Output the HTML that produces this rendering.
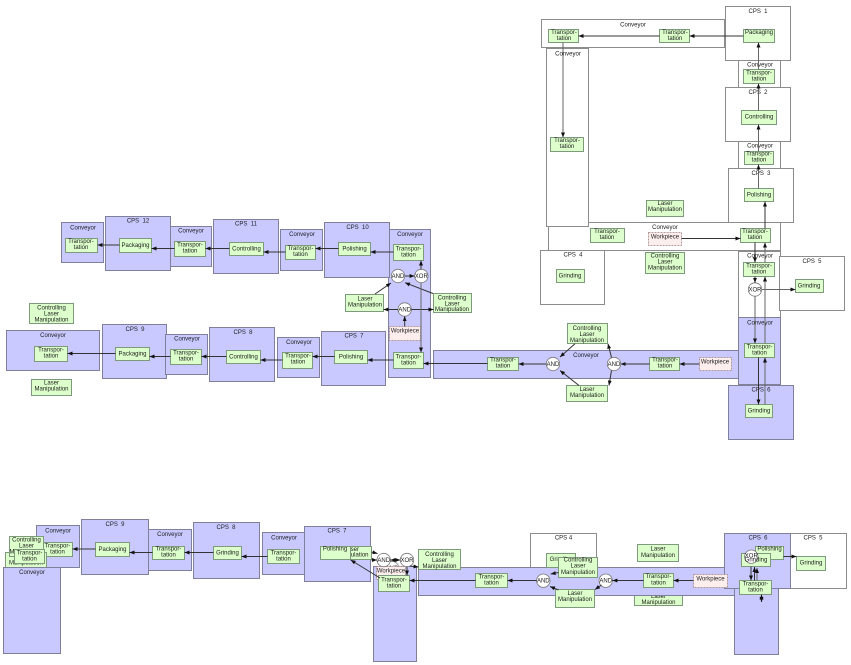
<!DOCTYPE html>
<html>
<head>
<meta charset="utf-8">
<style>
html,body{margin:0;padding:0;background:#fff;}
svg{display:block;}
text{font-family:"Liberation Sans",sans-serif;font-size:6px;fill:#1c1c1c;text-anchor:middle;}
.w{fill:#fff;stroke:#8c8c8c;stroke-width:1;}
.u{fill:#c9c9ff;stroke:#80809a;stroke-width:1;}
.n{fill:#dcffcb;stroke:#7d9a7d;stroke-width:1;}
.p{fill:#fdeeee;stroke:#a08080;stroke-width:.8;stroke-dasharray:2 1;}
.c{fill:#fff;stroke:#777;stroke-width:.8;}
line{stroke:#333;stroke-width:1;marker-end:url(#a);}
.g{stroke:#666;}
.d{marker-start:url(#s);}
</style>
</head>
<body>
<svg width="851" height="665" viewBox="0 0 851 665" xmlns="http://www.w3.org/2000/svg">
<defs>
<marker id="a" markerUnits="userSpaceOnUse" markerWidth="5" markerHeight="4" refX="5" refY="2" orient="auto"><path d="M0 0L5 2L0 4Z" fill="#111"/></marker>
<marker id="s" markerUnits="userSpaceOnUse" markerWidth="5" markerHeight="4" refX="0" refY="2" orient="auto"><path d="M5 0L0 2L5 4Z" fill="#111"/></marker>
</defs>

<!-- TOP RIGHT -->
<rect class="w" x="548.5" y="222.5" width="232" height="28"/>
<rect class="w" x="541.5" y="19.5" width="183" height="28"/>
<rect class="w" x="546.5" y="48.5" width="42" height="178"/>
<rect class="w" x="738.5" y="60.5" width="42" height="27"/>
<rect class="w" x="738.5" y="141.5" width="42" height="27"/>
<rect class="w" x="725.5" y="6.5" width="65" height="54"/>
<rect class="w" x="725.5" y="87.5" width="65" height="54"/>
<rect class="w" x="728.5" y="168.5" width="65" height="54"/>
<rect class="w" x="540.5" y="250.5" width="64" height="54"/>
<rect class="w" x="738.5" y="251.5" width="42" height="66"/>
<rect class="w" x="779.5" y="256.5" width="65" height="54"/>
<rect class="u" x="433.5" y="350.5" width="306" height="28"/>
<rect class="u" x="738.5" y="317.5" width="42" height="67"/>
<rect class="u" x="728.5" y="385.5" width="65" height="54"/>
<text x="758" y="13">CPS &#160;1</text>
<text x="633" y="26.5">Conveyor</text>
<text x="568" y="55.5">Conveyor</text>
<text x="760" y="66.5">Conveyor</text>
<text x="758" y="94">CPS &#160;2</text>
<text x="760" y="147.5">Conveyor</text>
<text x="761" y="175">CPS &#160;3</text>
<text x="665" y="229">Conveyor</text>
<text x="573" y="256.5">CPS &#160;4</text>
<text x="760" y="257.5">Conveyor</text>
<text x="812" y="263">CPS &#160;5</text>
<text x="760" y="324.5">Conveyor</text>
<text x="586" y="357">Conveyor</text>
<text x="761" y="391.5">CPS &#160;6</text>

<rect class="n" x="548.5" y="29.5" width="30" height="13"/><text x="564" y="34">Transpor-</text><text x="564" y="40">tation</text>
<rect class="n" x="659.5" y="29.5" width="30" height="13"/><text x="675" y="34">Transpor-</text><text x="675" y="40">tation</text>
<rect class="n" x="743.5" y="29.5" width="31" height="13"/><text x="759" y="34">Packaging</text>
<rect class="n" x="743.5" y="69.5" width="31" height="14"/><text x="759" y="74.5">Transpor-</text><text x="759" y="80.5">tation</text>
<rect class="n" x="741.5" y="110.5" width="35" height="14"/><text x="759" y="118.5">Controlling</text>
<rect class="n" x="744.5" y="151.5" width="29" height="13"/><text x="759" y="155.5">Transpor-</text><text x="759" y="161.5">tation</text>
<rect class="n" x="744.5" y="188.5" width="29" height="13"/><text x="759" y="196.5">Polishing</text>
<rect class="n" x="550.5" y="137.5" width="33" height="14"/><text x="567" y="142">Transpor-</text><text x="567" y="148">tation</text>
<rect class="n" x="646.5" y="200.5" width="37" height="16"/><text x="665" y="205">Laser</text><text x="665" y="211">Manipulation</text>
<rect class="n" x="590.5" y="228.5" width="34" height="14"/><text x="607" y="233">Transpor-</text><text x="607" y="239">tation</text>
<rect class="p" x="648.5" y="232.5" width="33" height="13"/><text x="665" y="238.5">Workpiece</text>
<rect class="n" x="740.5" y="228.5" width="30" height="14"/><text x="755" y="233">Transpor-</text><text x="755" y="239">tation</text>
<rect class="n" x="556.5" y="269.5" width="28" height="13"/><text x="570" y="277.5">Grinding</text>
<rect class="n" x="645.5" y="252.5" width="39" height="21"/><text x="665" y="257.7">Controlling</text><text x="665" y="263.7">Laser</text><text x="665" y="269.7">Manipulation</text>
<rect class="n" x="743.5" y="262.5" width="31" height="14"/><text x="759" y="267.5">Transpor-</text><text x="759" y="273.5">tation</text>
<rect class="n" x="795.5" y="279.5" width="28" height="13"/><text x="809" y="287.5">Grinding</text>
<rect class="n" x="744.5" y="343.5" width="30" height="14"/><text x="759.5" y="348.5">Transpor-</text><text x="759.5" y="354.5">tation</text>
<rect class="n" x="745.5" y="404.5" width="27" height="13"/><text x="759" y="412.5">Grinding</text>
<rect class="n" x="567.5" y="323.5" width="40" height="20"/><text x="587" y="330">Controlling</text><text x="587" y="336">Laser</text><text x="587" y="342">Manipulation</text>
<rect class="n" x="566.5" y="385.5" width="41" height="16"/><text x="587" y="391">Laser</text><text x="587" y="397">Manipulation</text>
<rect class="n" x="649.5" y="357.5" width="30" height="13"/><text x="665" y="361.5">Transpor-</text><text x="665" y="367.5">tation</text>
<rect class="p" x="699.5" y="357.5" width="32" height="13"/><text x="715" y="363.5">Workpiece</text>
<rect class="n" x="487.5" y="357.5" width="31" height="13"/><text x="503" y="361.5">Transpor-</text><text x="503" y="367.5">tation</text>
<circle class="c" cx="755" cy="289.5" r="6.7"/><text x="755" y="291.5">XOR</text>
<circle class="c" cx="553" cy="364" r="6.7"/><text x="553" y="366">AND</text>
<circle class="c" cx="614" cy="364" r="6.7"/><text x="614" y="366">AND</text>

<line x1="743.5" y1="36" x2="689.5" y2="36"/>
<line x1="659.5" y1="36" x2="578.5" y2="36"/>
<line class="g" x1="563" y1="42.5" x2="563" y2="137.5"/>
<line class="g" x1="758.5" y1="69.5" x2="758.5" y2="42.5"/>
<line class="g" x1="758.5" y1="110.5" x2="758.5" y2="83.5"/>
<line class="g" x1="758.5" y1="151.5" x2="758.5" y2="124.5"/>
<line class="g" x1="758.5" y1="188.5" x2="758.5" y2="164.5"/>
<line x1="765" y1="228.5" x2="765" y2="201.5"/>
<line x1="681.5" y1="238.5" x2="740.5" y2="238.5"/>
<line x1="755" y1="242.5" x2="755" y2="262.5"/>
<line x1="755" y1="276.5" x2="755" y2="282.8"/>
<line class="g" x1="761.7" y1="289.5" x2="795.5" y2="289.5"/>
<line class="g" x1="755" y1="296.2" x2="755" y2="343.5"/>
<line class="g" x1="765" y1="343.5" x2="765" y2="276.5"/>
<line class="g" x1="765" y1="262.5" x2="765" y2="242.5"/>
<line x1="758.5" y1="357.5" x2="758.5" y2="404.5"/>
<line class="g" x1="765" y1="404.5" x2="765" y2="357.5"/>
<line x1="699.5" y1="364" x2="679.5" y2="364"/>
<line x1="649.5" y1="364" x2="620.7" y2="364"/>
<line x1="611.5" y1="357.5" x2="608" y2="343.7"/>
<line x1="611.5" y1="370.5" x2="609" y2="385.5"/>
<line x1="575" y1="343.7" x2="560" y2="357"/>
<line x1="579" y1="385.5" x2="560" y2="370.5"/>
<line x1="546.3" y1="364" x2="518.5" y2="364"/>

<!-- MIDDLE LEFT -->
<rect class="u" x="61.5" y="222.5" width="42" height="40"/>
<rect class="u" x="105.5" y="216.5" width="65" height="54"/>
<rect class="u" x="170.5" y="226.5" width="41" height="40"/>
<rect class="u" x="213.5" y="219.5" width="65" height="54"/>
<rect class="u" x="280.5" y="229.5" width="42" height="41"/>
<rect class="u" x="388.5" y="229.5" width="42" height="148"/>
<rect class="u" x="324.5" y="222.5" width="65" height="55"/>
<rect class="u" x="6.5" y="330.5" width="93" height="40"/>
<rect class="u" x="102.5" y="324.5" width="64" height="54"/>
<rect class="u" x="165.5" y="334.5" width="42" height="40"/>
<rect class="u" x="209.5" y="327.5" width="65" height="54"/>
<rect class="u" x="277.5" y="337.5" width="42" height="40"/>
<rect class="u" x="321.5" y="331.5" width="64" height="54"/>
<text x="83" y="229.5">Conveyor</text>
<text x="138" y="222.5">CPS &#160;12</text>
<text x="191" y="232.5">Conveyor</text>
<text x="246" y="225.5">CPS &#160;11</text>
<text x="302" y="236">Conveyor</text>
<text x="357.5" y="229">CPS &#160;10</text>
<text x="410" y="236">Conveyor</text>
<text x="53" y="337">Conveyor</text>
<text x="135" y="331">CPS &#160;9</text>
<text x="187" y="340.5">Conveyor</text>
<text x="243" y="334">CPS &#160;8</text>
<text x="299" y="344">Conveyor</text>
<text x="354" y="337.5">CPS &#160;7</text>

<rect class="n" x="65.5" y="238.5" width="32" height="14"/><text x="81" y="243">Transpor-</text><text x="81" y="249">tation</text>
<rect class="n" x="119.5" y="238.5" width="32" height="14"/><text x="135.5" y="247">Packaging</text>
<rect class="n" x="174.5" y="241.5" width="31" height="15"/><text x="190" y="246.5">Transpor-</text><text x="190" y="252.5">tation</text>
<rect class="n" x="229.5" y="242.5" width="34" height="13"/><text x="246.5" y="250.5">Controlling</text>
<rect class="n" x="285.5" y="245.5" width="30" height="14"/><text x="300.5" y="250">Transpor-</text><text x="300.5" y="256">tation</text>
<rect class="n" x="338.5" y="242.5" width="32" height="13"/><text x="354.5" y="250.5">Polishing</text>
<rect class="n" x="393.5" y="244.5" width="30" height="16"/><text x="408.5" y="250.5">Transpor-</text><text x="408.5" y="256.5">tation</text>
<rect class="n" x="345.5" y="294.5" width="38" height="17"/><text x="365" y="300.5">Laser</text><text x="365" y="306.5">Manipulation</text>
<rect class="n" x="433.5" y="293.5" width="38" height="19"/><text x="452" y="299.5">Controlling</text><text x="452" y="305.5">Laser</text><text x="452" y="311">Manipulation</text>
<rect class="p" x="389.5" y="326.5" width="31" height="14"/><text x="405" y="332.5">Workpiece</text>
<rect class="n" x="393.5" y="352.5" width="30" height="16"/><text x="408.5" y="358.5">Transpor-</text><text x="408.5" y="364.5">tation</text>
<rect class="n" x="334.5" y="350.5" width="33" height="13"/><text x="351" y="358.5">Polishing</text>
<rect class="n" x="282.5" y="352.5" width="30" height="16"/><text x="298" y="357.5">Transpor-</text><text x="298" y="363.5">tation</text>
<rect class="n" x="226.5" y="350.5" width="34" height="13"/><text x="243.5" y="358.5">Controlling</text>
<rect class="n" x="170.5" y="349.5" width="31" height="15"/><text x="186" y="354.5">Transpor-</text><text x="186" y="360.5">tation</text>
<rect class="n" x="115.5" y="347.5" width="34" height="13"/><text x="132.5" y="355.5">Packaging</text>
<rect class="n" x="34.5" y="346.5" width="33" height="15"/><text x="51" y="351.5">Transpor-</text><text x="51" y="357.5">tation</text>
<rect class="n" x="29.5" y="303.5" width="44" height="20"/><text x="51.5" y="309.5">Controlling</text><text x="51.5" y="315.5">Laser</text><text x="51.5" y="321.5">Manipulation</text>
<rect class="n" x="31.5" y="379.5" width="40" height="16"/><text x="51.5" y="384.5">Laser</text><text x="51.5" y="390.5">Manipulation</text>
<circle class="c" cx="398" cy="276" r="6.7"/><text x="398" y="278">AND</text>
<circle class="c" cx="421.3" cy="276" r="6.7"/><text x="421.3" y="278">XOR</text>
<circle class="c" cx="404.7" cy="309.5" r="6.7"/><text x="404.7" y="311.5">AND</text>

<line x1="487.5" y1="363.5" x2="423.5" y2="363.5"/>
<line x1="393.5" y1="360" x2="367.5" y2="360"/>
<line x1="334.5" y1="356.5" x2="312.5" y2="356.5"/>
<line x1="282.5" y1="360" x2="260.5" y2="360"/>
<line x1="226.5" y1="356.5" x2="201.5" y2="356.5"/>
<line x1="170.5" y1="356.5" x2="149.5" y2="356.5"/>
<line x1="115.5" y1="353.5" x2="67.5" y2="353.5"/>
<line x1="393.5" y1="252" x2="370.5" y2="252"/>
<line x1="338.5" y1="248.5" x2="315.5" y2="248.5"/>
<line x1="285.5" y1="252" x2="263.5" y2="252"/>
<line x1="229.5" y1="248.5" x2="205.5" y2="248.5"/>
<line x1="174.5" y1="248.5" x2="151.5" y2="248.5"/>
<line x1="119.5" y1="245" x2="97.5" y2="245"/>
<line x1="421" y1="269.3" x2="421" y2="260.5"/>
<line x1="404.7" y1="276" x2="414.6" y2="276"/>
<line x1="375" y1="294" x2="391" y2="283"/>
<line x1="433" y1="293.5" x2="405" y2="282.7"/>
<line x1="398" y1="309.5" x2="383.5" y2="309.5"/>
<line x1="411.4" y1="309.5" x2="433.5" y2="309.5"/>
<line x1="404.7" y1="326.5" x2="404.7" y2="316.2"/>
<line class="g" x1="421" y1="282.7" x2="421" y2="352.5"/>

<!-- BOTTOM -->
<rect class="w" x="530.5" y="533.5" width="66" height="56"/>
<rect class="w" x="781.5" y="533.5" width="65" height="55"/>
<rect class="n" x="634.5" y="588.5" width="48" height="17"/><text x="658.5" y="598">Laser</text><text x="658.5" y="604">Manipulation</text>
<rect class="n" x="637.5" y="544.5" width="41" height="17"/><text x="658" y="550.5">Laser</text><text x="658" y="557">Manipulation</text>
<rect class="u" x="36.5" y="525.5" width="43" height="42"/>
<rect class="u" x="81.5" y="519.5" width="67" height="55"/>
<rect class="u" x="148.5" y="529.5" width="43" height="41"/>
<rect class="u" x="193.5" y="522.5" width="66" height="56"/>
<rect class="u" x="262.5" y="532.5" width="43" height="42"/>
<rect class="u" x="304.5" y="526.5" width="66" height="55"/>
<rect class="u" x="418.5" y="567.5" width="316" height="28"/>
<rect class="u" x="373.5" y="566.5" width="43" height="95"/>
<rect class="u" x="734.5" y="585.5" width="44" height="69"/>
<rect class="u" x="724.5" y="533.5" width="66" height="55"/>
<rect class="n" x="546.5" y="553.5" width="29" height="14"/><text x="561" y="561">Grinding</text>
<text x="563.5" y="539.5">CPS 4</text>
<text x="58" y="532.5">Conveyor</text>
<text x="115" y="526">CPS &#160;9</text>
<text x="170" y="536">Conveyor</text>
<text x="226" y="529">CPS &#160;8</text>
<text x="284" y="539.5">Conveyor</text>
<text x="337" y="532.5">CPS &#160;7</text>
<text x="758" y="539.5">CPS &#160;6</text>
<text x="813" y="539.5">CPS &#160;5</text>

<rect class="n" x="42.5" y="542.5" width="30" height="14"/><text x="57.5" y="547.5">Transpor-</text><text x="57.5" y="553.5">tation</text>
<rect class="n" x="95.5" y="542.5" width="34" height="14"/><text x="112.5" y="551">Packaging</text>
<rect class="n" x="152.5" y="546.5" width="32" height="13"/><text x="168.5" y="550.5">Transpor-</text><text x="168.5" y="556.5">tation</text>
<rect class="n" x="213.5" y="546.5" width="28" height="13"/><text x="227.5" y="554.5">Grinding</text>
<rect class="n" x="267.5" y="549.5" width="32" height="14"/><text x="283.5" y="554.5">Transpor-</text><text x="283.5" y="560.5">tation</text>
<rect class="n" x="5.5" y="552.5" width="41" height="15"/><text x="26" y="558">Laser</text><text x="26" y="564.5">Manipulation</text>
<rect class="n" x="9.5" y="536.5" width="34" height="20"/><text x="26.5" y="541.5">Controlling</text><text x="26.5" y="547.5">Laser</text><text x="26.5" y="553.5">Manipulation</text>
<rect class="n" x="14.5" y="549.5" width="30" height="14"/><text x="29.5" y="554.5">Transpor-</text><text x="29.5" y="560.5">tation</text>
<rect class="u" x="3.5" y="567.5" width="57" height="86"/>
<text x="32" y="574">Conveyor</text>

<rect class="n" x="331.5" y="546.5" width="40" height="13"/><text x="351.5" y="551">Laser</text><text x="351.5" y="556.5">Manipulation</text>
<rect class="n" x="320.5" y="546.5" width="30" height="13"/><text x="335" y="550.5">Polishing</text>
<circle class="c" cx="392" cy="568" r="6.7"/><text x="392" y="570">AND</text>
<rect class="p" x="376.5" y="566.5" width="29" height="13"/><text x="391" y="572.5">Workpiece</text>
<rect class="n" x="378.5" y="575.5" width="31" height="16"/><text x="394" y="581.5">Transpor-</text><text x="394" y="587.5">tation</text>
<circle class="c" cx="383.7" cy="560" r="6.7"/><text x="383.7" y="562">AND</text>
<circle class="c" cx="407" cy="560" r="6.7"/><text x="407" y="562">XOR</text>
<rect class="n" x="418.5" y="549.5" width="42" height="20"/><text x="439.5" y="556">Controlling</text><text x="439.5" y="562">Laser</text><text x="439.5" y="568">Manipulation</text>
<rect class="n" x="475.5" y="573.5" width="32" height="14"/><text x="491.5" y="578.5">Transpor-</text><text x="491.5" y="584.5">tation</text>
<rect class="n" x="558.5" y="557.5" width="39" height="20"/><text x="578" y="561.5">Controlling</text><text x="578" y="567.5">Laser</text><text x="578" y="574">Manipulation</text>
<rect class="n" x="555.5" y="589.5" width="39" height="18"/><text x="575" y="595">Laser</text><text x="575" y="601">Manipulation</text>
<rect class="n" x="643.5" y="573.5" width="30" height="14"/><text x="658.5" y="578">Transpor-</text><text x="658.5" y="584.5">tation</text>
<rect class="p" x="693.5" y="574.5" width="34" height="13"/><text x="710.5" y="580.5">Workpiece</text>
<rect class="n" x="755.5" y="546.5" width="28" height="13"/><text x="769.5" y="550.5">Polishing</text>
<rect class="n" x="741.5" y="553.5" width="29" height="13"/>
<circle class="c" cx="751.3" cy="556.7" r="6.7"/><text x="751.3" y="557.5">XOR</text><text x="756" y="561.5">Grinding</text>
<rect class="n" x="796.5" y="556.5" width="29" height="14"/><text x="811" y="564.5">Grinding</text>
<rect class="n" x="739.5" y="580.5" width="32" height="14"/><text x="755.5" y="585.5">Transpor-</text><text x="755.5" y="591.5">tation</text>
<circle class="c" cx="543.3" cy="580.7" r="6.7"/><text x="543.3" y="582.7">AND</text>
<circle class="c" cx="605.7" cy="580.7" r="6.7"/><text x="605.7" y="582.7">AND</text>

<line x1="95.5" y1="549" x2="72.5" y2="549"/>
<line x1="152.5" y1="552.5" x2="129.5" y2="552.5"/>
<line x1="213.5" y1="552.5" x2="184.5" y2="552.5"/>
<line x1="267.5" y1="556.5" x2="241.5" y2="556.5"/>
<line x1="380" y1="578" x2="350.7" y2="560"/>
<line x1="371.5" y1="552" x2="377.5" y2="553.5"/>
<line x1="371.5" y1="560" x2="377" y2="560"/>
<line class="d" x1="390.4" y1="560" x2="400.3" y2="560"/>
<line x1="407" y1="566.7" x2="407" y2="575.5"/>
<line x1="410" y1="566" x2="418.5" y2="567"/>
<line x1="475.5" y1="580.5" x2="409.5" y2="580.5"/>
<line x1="536.6" y1="580.5" x2="507.5" y2="580.5"/>
<line x1="643.5" y1="580.5" x2="612.4" y2="580.5"/>
<line x1="693.5" y1="580.5" x2="673.5" y2="580.5"/>
<line x1="558.5" y1="572.5" x2="550.7" y2="574"/>
<line x1="558.5" y1="590" x2="550" y2="586.5"/>
<line x1="601.5" y1="585" x2="595" y2="589.5"/>
<line x1="751" y1="566.5" x2="751" y2="580.5"/>
<line x1="754.5" y1="580.5" x2="754.5" y2="567"/>
<line class="g" x1="757" y1="580.5" x2="757" y2="568"/>
<line class="d" x1="761.5" y1="594.5" x2="761.5" y2="602"/>
<line x1="783.5" y1="556.5" x2="796.5" y2="556.5"/>
</svg>
</body>
</html>
